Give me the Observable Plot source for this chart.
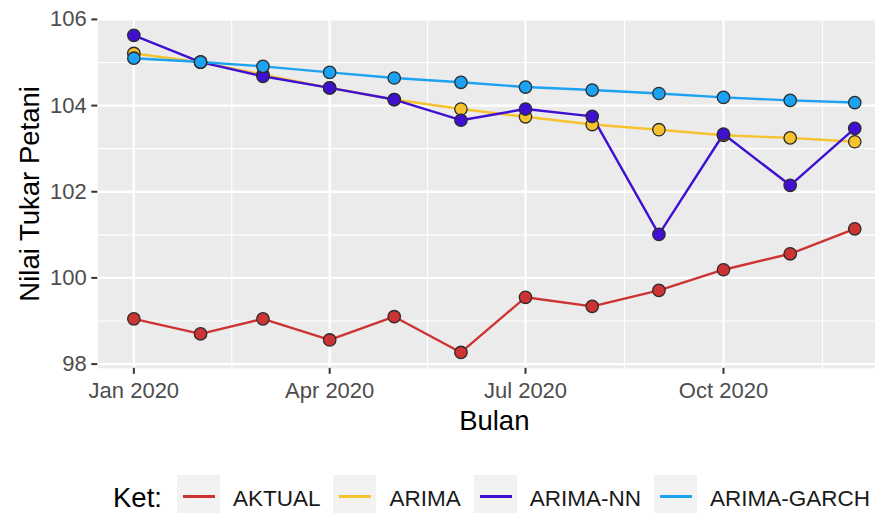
<!DOCTYPE html>
<html><head><meta charset="utf-8">
<script src="https://cdn.jsdelivr.net/npm/d3@7"></script>
<script src="https://cdn.jsdelivr.net/npm/@observablehq/plot@0.6"></script>
<style>
html,body{margin:0;padding:0;background:#fff;overflow:hidden;width:875px;height:513px;}
body{font-family:"Liberation Sans",Arial,sans-serif;}
#chart svg{display:block;max-width:none;}
#legend{display:flex;align-items:center;padding-top:35px;padding-left:113px;white-space:nowrap;}
#legend .title{font-size:27.5px;color:#000;margin-right:15px;position:relative;top:1px;}
#legend .key{width:43px;height:43px;background:#F2F2F2;position:relative;flex:none;}
#legend .key span{position:absolute;left:6px;right:5px;top:20px;height:2.6px;}
#legend .lab{font-size:22.5px;color:#1a1a1a;margin-left:13px;margin-right:13px;position:relative;top:2px;}
</style></head><body>
<div id="chart"></div>
<div id="legend"></div>
<script>
// ---- data ----
const months = ["2020-01","2020-02","2020-03","2020-04","2020-05","2020-06","2020-07","2020-08","2020-09","2020-10","2020-11","2020-12"];
const aktual     = [99.05, 98.70, 99.05, 98.56, 99.10, 98.27, 99.55, 99.34, 99.71, 100.19, 100.56, 101.14];
const arima      = [105.21, 105.01, 104.72, 104.41, 104.14, 103.92, 103.74, 103.56, 103.44, 103.31, 103.25, 103.16];
const arimaNN    = [105.63, 105.01, 104.68, 104.41, 104.14, 103.66, 103.92, 103.75, 101.01, 103.34, 102.15, 103.47];
const arimaGarch = [105.10, 105.01, 104.91, 104.77, 104.64, 104.54, 104.43, 104.36, 104.28, 104.19, 104.12, 104.07];
const seriesNames  = ["AKTUAL", "ARIMA", "ARIMA-NN", "ARIMA-GARCH"];
const seriesColors = ["#CD3333", "#F6C22E", "#4010D2", "#1CA2F2"];
const yMajor = [98, 100, 102, 104, 106];
const yMinor = [99, 101, 103, 105];
const xMajor = ["2020-01-01", "2020-04-01", "2020-07-01", "2020-10-01"];
const xMajorLabels = ["Jan 2020", "Apr 2020", "Jul 2020", "Oct 2020"];
const xMinor = ["2020-02-15T12:00Z", "2020-05-16T12:00Z", "2020-08-16T00:00Z", "2020-11-16T00:00Z"];
const xTitle = "Bulan";
const yTitle = "Nilai Tukar Petani";
const legendTitle = "Ket:";

// ---- build ----
const seriesValues = [aktual, arima, arimaNN, arimaGarch];
const data = seriesNames.flatMap((name, i) =>
  months.map((m, j) => ({series: name, date: new Date(m + "-01T00:00Z"), value: seriesValues[i][j]})));
const xMajorD = xMajor.map(s => new Date(s + "T00:00Z"));
const xMinorD = xMinor.map(s => new Date(s));
const t0 = data[0].date, t1 = new Date(months[months.length - 1] + "-01T00:00Z");
const pad = (t1 - t0) * 0.05;
const yPad = (d3.max(data, d => d.value) - d3.min(data, d => d.value)) * 0.05;

const chart = Plot.plot({
  width: 875,
  height: 440,
  marginLeft: 97.3,
  marginRight: -15.3,
  marginTop: 19,
  marginBottom: 72.2,
  style: {fontFamily: "'Liberation Sans', Arial, sans-serif", background: "white"},
  x: {type: "utc", domain: [new Date(+t0 - pad), new Date(+t1 + pad)]},
  y: {domain: [d3.min(data, d => d.value) - yPad, d3.max(data, d => d.value) + yPad]},
  color: {domain: seriesNames, range: seriesColors},
  marks: [
    Plot.frame({fill: "#EBEBEB", stroke: null}),
    Plot.ruleY(yMinor, {stroke: "#FFFFFF", strokeWidth: 1.1}),
    Plot.ruleX(xMinorD, {stroke: "#FFFFFF", strokeWidth: 1.1}),
    Plot.ruleY(yMajor, {stroke: "#FFFFFF", strokeWidth: 2.3}),
    Plot.ruleX(xMajorD, {stroke: "#FFFFFF", strokeWidth: 2.3}),
    Plot.axisY({ticks: yMajor, tickSize: 6, tickPadding: 5, fontSize: 22, stroke: "#333333", strokeWidth: 2, fill: "#4D4D4D", label: null}),
    Plot.axisX({ticks: xMajorD, tickSize: 6, tickPadding: 8, fontSize: 22, stroke: "#333333", strokeWidth: 2, fill: "#4D4D4D", label: null,
      tickFormat: d => xMajorLabels[xMajorD.findIndex(t => +t === +d)]}),
    Plot.line(data, {x: "date", y: "value", z: "series", stroke: "series", strokeWidth: 2.4}),
    Plot.dot(data, {x: "date", y: "value", fill: "series", stroke: "#2b2b2b", strokeWidth: 1.3, r: 6.2}),
    Plot.text([yTitle], {text: d => d, frameAnchor: "left", dx: -59.3, rotate: -90, lineAnchor: "bottom", textAnchor: "middle", fontSize: 27.5, fill: "#000"}),
    Plot.text([xTitle], {text: d => d, frameAnchor: "bottom", dy: 61.2, lineAnchor: "bottom", textAnchor: "middle", fontSize: 27.5, fill: "#000"})
  ]
});
document.getElementById("chart").appendChild(chart);

// ---- legend ----
const lg = document.getElementById("legend");
const tt = document.createElement("span");
tt.className = "title"; tt.textContent = legendTitle; lg.appendChild(tt);
seriesNames.forEach((name, i) => {
  const k = document.createElement("div"); k.className = "key";
  const ln = document.createElement("span"); ln.style.background = seriesColors[i]; k.appendChild(ln);
  lg.appendChild(k);
  const l = document.createElement("span"); l.className = "lab"; l.textContent = name; lg.appendChild(l);
});
</script>
</body></html>
